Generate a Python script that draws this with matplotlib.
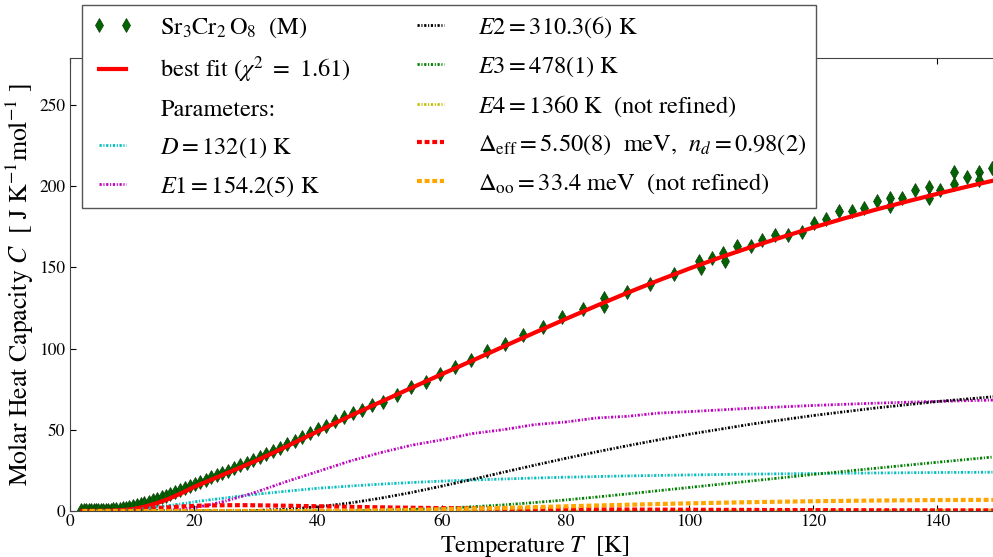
import matplotlib
matplotlib.use("Agg")
import matplotlib.pyplot as plt

# measured heat capacity, Sr3Cr2O8 (M)
T_data = [1.8, 2.2, 2.6, 3.0, 3.4, 3.8, 4.2, 4.6, 5.0, 5.4, 5.8, 6.2, 6.6, 7.0, 7.5,
          8.0, 8.5, 9.0, 9.6, 10.2, 10.8, 11.4, 12.0, 12.7, 13.4, 14.1, 14.8, 15.5,
          16.2, 17.0, 17.8, 18.6, 19.4, 20.2, 21.0, 21.9, 22.8, 23.7, 24.6, 25.5,
          26.5, 27.5, 28.5, 29.5, 30.6, 31.7, 32.8, 33.9, 35.1, 36.3, 37.5, 38.8,
          40.1, 41.4, 42.8, 44.2, 45.7, 47.2, 48.8,
          50.6, 52.8, 55.0, 57.4, 59.7, 62.1, 64.7, 67.4, 70.3, 73.2, 76.3, 79.4,
          82.8, 86.2, 86.2, 89.9, 93.7, 97.5, 101.5, 101.9,
          103.7, 105.5, 105.8, 107.7, 109.9, 111.7, 113.9, 116.0, 118.2, 120.1,
          122.0, 124.1, 126.3, 128.2, 130.3, 132.4, 132.4, 134.4, 136.5, 138.7,
          138.7, 140.5, 142.7, 142.7, 144.9, 146.7, 146.7, 148.9]
C_data = [0.8, 0.8, 0.8, 0.8, 0.8, 0.8, 0.8, 0.8, 0.8, 0.8, 0.8, 0.8, 0.9, 1.0, 1.2,
          1.5, 1.8, 2.1, 2.6, 3.0, 3.6, 4.2, 4.8, 5.6, 6.5, 7.4, 8.4, 9.4,
          10.4, 11.7, 13.0, 14.3, 15.5, 16.6, 17.8, 19.3, 20.7, 22.1, 23.5, 24.9,
          26.5, 28.1, 29.7, 31.3, 33.0, 34.9, 36.8, 38.8, 41.0, 43.2, 45.4, 47.8,
          50.2, 52.6, 55.2, 57.8, 60.5, 62.5, 65.0,
          66.9, 71.6, 76.3, 79.4, 84.6, 88.7, 92.8, 98.3, 103.0, 108.2, 113.4, 119.5,
          124.7, 131.3, 126.5, 134.8, 140.1, 145.7, 153.9, 149.8,
          156.0, 159.0, 153.9, 163.0, 163.0, 167.0, 170.0, 170.0, 172.0, 177.6,
          179.6, 184.7, 184.7, 186.8, 190.9, 193.0, 188.0, 193.0, 198.0, 199.4,
          193.0, 198.0, 209.0, 201.6, 205.5, 209.0, 203.7, 211.0]

# best fit curve
T_fit = [2, 4, 6, 8, 10, 12, 14, 16, 18, 20, 22, 24, 26, 28, 30, 32, 34, 36, 38, 40,
         42, 44, 46, 48, 50, 55, 60, 65, 70, 75, 80, 85, 90, 95, 100, 105, 110, 115,
         120, 125, 130, 135, 140, 145, 150]
C_fit = [0.0, 0.02, 0.1, 0.35, 1.1, 2.6, 4.8, 7.6, 11.0, 14.8, 18.0, 21.2, 24.4, 27.6,
         30.9, 34.4, 38.0, 41.7, 45.4, 49.0, 52.7, 56.3, 59.9, 63.4, 66.9, 75.6, 84.2,
         92.7, 101.3, 109.8, 118.2, 126.4, 134.4, 142.0, 149.3, 156.2, 162.6, 168.7,
         174.6, 180.2, 185.5, 190.5, 195.3, 199.9, 204.3]

# fit components
T_comp = [2, 5, 8, 10, 12, 15, 18, 20, 22, 25, 28, 30, 35, 40, 45, 50, 55, 60, 65, 70,
          75, 80, 85, 90, 95, 100, 110, 120, 130, 140, 150]
C_debye = [0.0, 0.08, 0.45, 0.9, 1.5, 2.9, 4.4, 5.6, 6.6, 8.0, 9.4, 10.3, 12.2, 14.0,
           15.3, 16.5, 17.5, 18.4, 19.1, 19.7, 20.3, 20.8, 21.2, 21.6, 21.9, 22.2, 22.7,
           23.1, 23.4, 23.7, 23.9]
C_e1 = [0.0, 0.0, 0.0, 0.0, 0.03, 0.27, 1.0, 2.0, 3.4, 6.0, 9.3, 11.6, 18.2, 24.3,
        30.5, 35.8, 40.4, 43.8, 47.7, 50.1, 53.2, 54.8, 57.3, 58.3, 60.3, 61.2, 63.3,
        65.0, 66.4, 67.5, 68.4]
C_e2 = [0.0, 0.0, 0.0, 0.0, 0.0, 0.0, 0.0, 0.0, 0.01, 0.04, 0.15, 0.34, 1.1, 2.6, 4.8,
        7.8, 11.3, 15.3, 19.5, 23.9, 28.2, 32.4, 36.4, 40.2, 43.8, 47.3, 53.5, 58.8,
        63.4, 67.4, 70.7]
C_e3 = [0.0, 0.0, 0.0, 0.0, 0.0, 0.0, 0.0, 0.0, 0.0, 0.0, 0.0, 0.0, 0.0, 0.02, 0.1,
        0.48, 0.95, 1.64, 2.6, 3.76, 5.2, 6.8, 8.6, 10.5, 12.5, 14.5, 18.5, 22.5,
        26.3, 30.0, 33.6]
C_e4 = [0.0, 0.0, 0.0, 0.0, 0.0, 0.0, 0.0, 0.0, 0.0, 0.0, 0.0, 0.0, 0.0, 0.0, 0.0,
        0.0, 0.0, 0.0, 0.0, 0.0, 0.0, 0.0, 0.0, 0.0, 0.01, 0.02, 0.05, 0.12, 0.23,
        0.43, 0.7]
C_deff = [0.0, 0.0, 0.18, 0.56, 1.12, 2.04, 2.79, 3.15, 3.39, 3.56, 3.58, 3.51, 3.24,
          2.91, 2.57, 2.26, 2.0, 1.76, 1.56, 1.38, 1.24, 1.11, 1.0, 0.9, 0.82, 0.75,
          0.63, 0.54, 0.46, 0.40, 0.35]
C_doo = [0.0, 0.0, 0.0, 0.0, 0.0, 0.0, 0.0, 0.0, 0.0, 0.0, 0.0, 0.0, 0.03, 0.09, 0.21,
         0.41, 0.68, 1.03, 1.44, 1.9, 2.37, 2.87, 3.37, 3.84, 4.3, 4.72, 5.45, 6.03,
         6.45, 6.73, 6.89]

plt.rcParams["font.family"] = ["STIXGeneral", "DejaVu Serif"]
plt.rcParams["mathtext.fontset"] = "stix"
plt.rcParams["lines.scale_dashes"] = False

fig = plt.figure(figsize=(9.93, 5.57), dpi=100)
# right edge of the axes runs just past the figure, as in the reference crop
ax = fig.add_axes([0.0705, 0.0826, 0.9356, 0.8133])

dotdash = (0, (1.6, 1.2, 0.8, 1.2))
dash = (0, (3.5, 2.0))

ax.plot(T_data, C_data, "d", color="darkgreen", mec="#0b3d0b", mew=0.5, ms=7,
        label=r"$\mathrm{Sr_3Cr_2\,O_8}$  (M)")
ax.plot(T_fit, C_fit, "-", color="red", lw=3, label=r"best fit ($\chi^2\ =\ 1.61$)")
ax.plot([], [], color="none", label="Parameters:")
ax.plot(T_comp, C_debye, color="c", lw=2, ls=dotdash, label=r"$D=132(1)$ K")
ax.plot(T_comp, C_e1, color="m", lw=2, ls=dotdash, label=r"$E1=154.2(5)$ K")
ax.plot(T_comp, C_e2, color="k", lw=2, ls=dotdash, label=r"$E2=310.3(6)$ K")
ax.plot(T_comp, C_e3, color="g", lw=2, ls=dotdash, label=r"$E3=478(1)$ K")
ax.plot(T_comp, C_e4, color="y", lw=2, ls=dotdash, label=r"$E4=1360$ K  (not refined)")
ax.plot(T_comp, C_deff, color="red", lw=3, ls=dash,
        label=r"$\Delta_{\rm eff}=5.50(8)$  meV,  $n_d=0.98(2)$")
ax.plot(T_comp, C_doo, color="orange", lw=3, ls=dash,
        label=r"$\Delta_{\rm oo}=33.4$ meV  (not refined)")

ax.set_xlim(0, 150)
ax.set_ylim(0, 279)
ax.set_xticks(range(0, 141, 20))
ax.set_yticks(range(0, 251, 50))
ax.tick_params(direction="in", top=True, right=True, length=4, labelsize=12.5)
ax.tick_params(axis="x", pad=2)
for s in ax.spines.values():
    s.set_color("#444444")

ax.set_xlabel(r"Temperature $T$  [K]", fontsize=17.5, labelpad=3)
ax.set_ylabel(r"Molar Heat Capacity $C$  [ J K$^{-1}$mol$^{-1}$ ]", fontsize=18.5,
              labelpad=2)

leg = ax.legend(ncol=2, loc="upper left", bbox_to_anchor=(0.0826, 0.991),
                bbox_transform=fig.transFigure, borderaxespad=0, fontsize=17.6,
                fancybox=False, framealpha=1, edgecolor="#555555", numpoints=2,
                handlelength=1.7, handletextpad=1.1, columnspacing=2.4,
                labelspacing=0.58)
leg.get_frame().set_linewidth(1.0)

fig.savefig("out.png", dpi=100)
